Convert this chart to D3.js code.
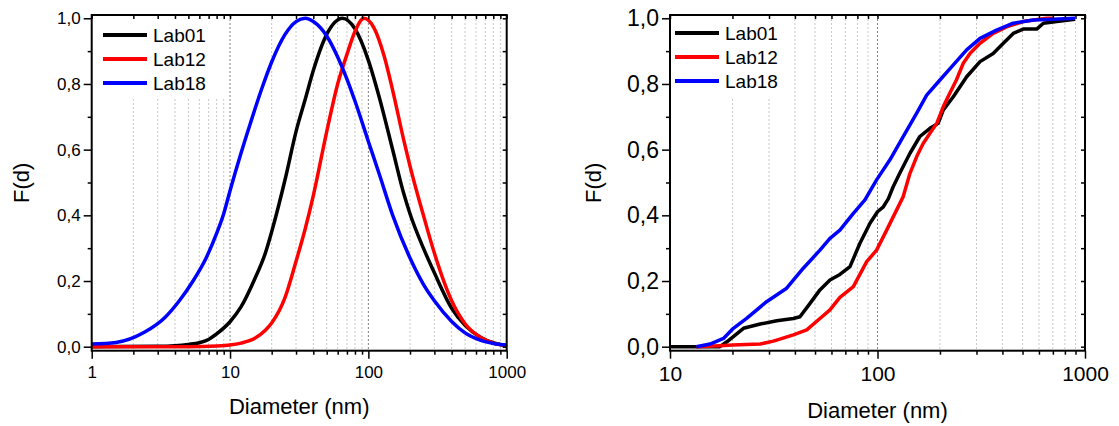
<!DOCTYPE html>
<html>
<head>
<meta charset="utf-8">
<script src="https://cdn.jsdelivr.net/npm/d3@7"></script>
<style>
  body { margin: 0; background: #fff; }
  svg { display: block; font-family: Arial, 'Liberation Sans', sans-serif; }
</style>
</head>
<body>
<svg id="chart" width="1119" height="426"></svg>
<script>
'use strict';

// series names
const labs = ['Lab01', 'Lab12', 'Lab18'];

// left panel: normalised distributions
const leftD01 = [1, 3, 4, 5, 6, 7, 8, 10, 12, 15, 18, 20, 25, 30, 35, 40, 50, 65, 80, 100, 120, 150, 180, 200, 250, 300, 400, 500, 650, 800, 1000];
const leftF01 = [0, 0.001, 0.003, 0.007, 0.012, 0.022, 0.039, 0.076, 0.121, 0.204, 0.285, 0.35, 0.509, 0.655, 0.754, 0.841, 0.951, 1.0, 0.968, 0.872, 0.759, 0.599, 0.467, 0.405, 0.30, 0.225, 0.117, 0.065, 0.028, 0.012, 0.003];
const leftD12 = [1, 5, 8, 10, 12, 15, 18, 20, 25, 30, 35, 40, 50, 60, 70, 80, 93, 110, 130, 150, 180, 200, 250, 300, 400, 500, 650, 800, 1000];
const leftF12 = [0, 0, 0.002, 0.005, 0.011, 0.025, 0.05, 0.072, 0.15, 0.26, 0.36, 0.46, 0.655, 0.80, 0.89, 0.96, 1.0, 0.97, 0.885, 0.78, 0.63, 0.55, 0.40, 0.285, 0.14, 0.07, 0.028, 0.011, 0.003];
const leftD18 = [1, 1.5, 2.4, 3.4, 4.3, 5.4, 6.8, 8, 9, 10, 12, 14, 17, 20, 25, 30, 35, 40, 50, 60, 70, 80, 100, 120, 150, 200, 250, 300, 400, 500, 650, 800, 1000];
const leftF18 = [0.008, 0.013, 0.044, 0.09, 0.14, 0.20, 0.275, 0.345, 0.405, 0.475, 0.589, 0.679, 0.787, 0.867, 0.951, 0.99, 1.0, 0.99, 0.946, 0.882, 0.815, 0.748, 0.625, 0.525, 0.40, 0.27, 0.19, 0.14, 0.077, 0.042, 0.019, 0.010, 0.005];

// right panel: cumulative distributions
const rightD01 = [10, 17.4, 18.8, 22.6, 27.2, 32.7, 39.3, 42.3, 47.3, 52.8, 59, 65.9, 73.7, 82.3, 92, 100, 106.7, 112.7, 119, 128, 143.4, 160, 179, 196, 207.6, 231.9, 269, 312, 361, 404, 451, 504, 585, 630, 731, 895];
const rightF01 = [0, 0, 0.015, 0.056, 0.069, 0.079, 0.086, 0.091, 0.132, 0.173, 0.203, 0.22, 0.244, 0.315, 0.376, 0.411, 0.426, 0.45, 0.487, 0.528, 0.589, 0.640, 0.665, 0.680, 0.721, 0.761, 0.822, 0.868, 0.893, 0.924, 0.954, 0.967, 0.967, 0.985, 0.990, 0.997];
const rightD12 = [13.4, 17.4, 20, 27.2, 31.5, 39.3, 45.6, 52.8, 59, 65.9, 76.5, 88.7, 99, 110.7, 133, 143.4, 154.5, 166, 179, 193, 207.6, 223, 240, 259, 279, 312, 361, 419, 504, 653, 700];
const rightF12 = [0, 0.003, 0.005, 0.008, 0.017, 0.036, 0.051, 0.086, 0.112, 0.15, 0.183, 0.259, 0.294, 0.355, 0.457, 0.528, 0.579, 0.619, 0.650, 0.680, 0.731, 0.772, 0.812, 0.863, 0.893, 0.924, 0.954, 0.974, 0.990, 1.0, 1.0];
const rightD18 = [13.4, 15.6, 18.1, 20.2, 23.4, 29.2, 36.5, 43.9, 52.8, 59, 65.9, 76.5, 87, 99, 114.8, 133, 154.5, 172.6, 200, 232, 269, 312, 375, 451, 564, 703, 895];
const rightF18 = [0, 0.008, 0.025, 0.056, 0.086, 0.137, 0.178, 0.239, 0.294, 0.330, 0.355, 0.406, 0.447, 0.508, 0.569, 0.640, 0.711, 0.766, 0.812, 0.858, 0.904, 0.939, 0.964, 0.985, 0.995, 0.997, 1.0];

// axis ticks
const yMajor = [0, 0.2, 0.4, 0.6, 0.8, 1.0];
const yMinor = [0.1, 0.3, 0.5, 0.7, 0.9];
const leftXMajor = [1, 10, 100, 1000];
const rightXMajor = [10, 100, 1000];

const colors = ['#000000', '#ff0000', '#0000ff'];
const svg = d3.select('#chart');
const fmtY = v => d3.format('.1f')(v).replace('.', ',');

function minorsBetween(lo, hi) {
    const out = [];
    for (let dec = lo; dec < hi; dec *= 10) {
        for (let k = 2; k <= 9; k++) out.push(dec * k);
    }
    return out;
}

function drawPanel(p) {
    const g = svg.append('g');
    const x = d3.scaleLog().domain(p.xDomain).range([p.left, p.right]);
    const y = d3.scaleLinear().domain([-0.0122, 1.01]).range([350.7, 15]);
    const top = y.range()[1], bottom = y.range()[0];
    const xMinor = minorsBetween(p.xDomain[0], p.xDomain[1]);
    const gridMajor = p.xMajor.filter(v => v > p.xDomain[0] && v < p.xDomain[1]);

    // grid
    g.append('g').selectAll('line').data(xMinor).join('line')
        .attr('x1', d => x(d)).attr('x2', d => x(d))
        .attr('y1', top).attr('y2', bottom)
        .attr('stroke', '#c8c8c8').attr('stroke-width', 1)
        .attr('stroke-dasharray', '2,2');
    g.append('g').selectAll('line').data(gridMajor).join('line')
        .attr('x1', d => x(d)).attr('x2', d => x(d))
        .attr('y1', top).attr('y2', bottom)
        .attr('stroke', '#808080').attr('stroke-width', 1)
        .attr('stroke-dasharray', '2,2');

    // legend background
    g.append('rect')
        .attr('x', p.left + 1).attr('y', top + 1)
        .attr('width', p.legendW).attr('height', 81)
        .attr('fill', '#fff');

    // curves
    const line = d3.line()
        .x(d => x(d[0])).y(d => y(d[1]))
        .curve(p.curve);
    p.series.forEach((s, i) => {
        g.append('path')
            .datum(d3.zip(s[0], s[1]))
            .attr('fill', 'none')
            .attr('stroke', colors[i])
            .attr('stroke-width', 3.5)
            .attr('stroke-linejoin', 'round')
            .attr('d', line);
    });

    // axes
    const ax = (gen, tx, ty) => {
        const a = g.append('g').attr('transform', `translate(${tx},${ty})`).call(gen);
        a.select('.domain').remove();
        a.selectAll('line').attr('stroke', '#000').attr('stroke-width', 1.5);
        return a;
    };
    ax(d3.axisBottom(x).tickValues(p.xMajor).tickSize(8).tickPadding(7).tickFormat(d3.format('d')), 0, bottom)
        .selectAll('text').attr('font-size', p.xFont).attr('fill', '#000');
    ax(d3.axisBottom(x).tickValues(xMinor).tickSize(4).tickFormat(''), 0, bottom);
    ax(d3.axisBottom(x).tickValues(xMinor.concat(p.xMajor)).tickSize(4).tickFormat(''), 0, top);
    ax(d3.axisLeft(y).tickValues(yMajor).tickSize(8).tickPadding(3).tickFormat(fmtY), p.left, 0)
        .selectAll('text').attr('font-size', p.yFont).attr('fill', '#000');
    ax(d3.axisLeft(y).tickValues(yMinor).tickSize(4).tickFormat(''), p.left, 0);
    ax(d3.axisLeft(y).tickValues(yMajor.concat(yMinor)).tickSize(4).tickFormat(''), p.right, 0);

    // frame
    g.append('rect')
        .attr('x', p.left).attr('y', top)
        .attr('width', p.right - p.left).attr('height', bottom - top)
        .attr('fill', 'none').attr('stroke', '#000').attr('stroke-width', 2);

    // titles
    g.append('text')
        .attr('x', (p.left + p.right) / 2).attr('y', p.titleY)
        .attr('text-anchor', 'middle').attr('font-size', 22)
        .text('Diameter (nm)');
    g.append('text')
        .attr('transform', `translate(${p.fdX},${(top + bottom) / 2}) rotate(-90)`)
        .attr('text-anchor', 'middle').attr('font-size', 22)
        .text('F(d)');

    // legend
    labs.forEach((name, i) => {
        const ly = p.legendY + i * 24;
        g.append('line')
            .attr('x1', p.legendX).attr('x2', p.legendX + 44)
            .attr('y1', ly).attr('y2', ly)
            .attr('stroke', colors[i]).attr('stroke-width', 4);
        g.append('text')
            .attr('x', p.legendX + 50).attr('y', ly).attr('dy', '0.35em')
            .attr('font-size', 19).text(name);
    });
}

drawPanel({
    left: 91.7, right: 506.7, xDomain: [1, 1000], xMajor: leftXMajor,
    series: [[leftD01, leftF01], [leftD12, leftF12], [leftD18, leftF18]],
    curve: d3.curveMonotoneX, xFont: 17, yFont: 17,
    titleY: 414, fdX: 29, legendX: 103, legendY: 35, legendW: 132
});

drawPanel({
    left: 670, right: 1085, xDomain: [10, 1000], xMajor: rightXMajor,
    series: [[rightD01, rightF01], [rightD12, rightF12], [rightD18, rightF18]],
    curve: d3.curveLinear, xFont: 21, yFont: 23,
    titleY: 418, fdX: 601, legendX: 675, legendY: 33, legendW: 119
});
</script>
</body>
</html>
